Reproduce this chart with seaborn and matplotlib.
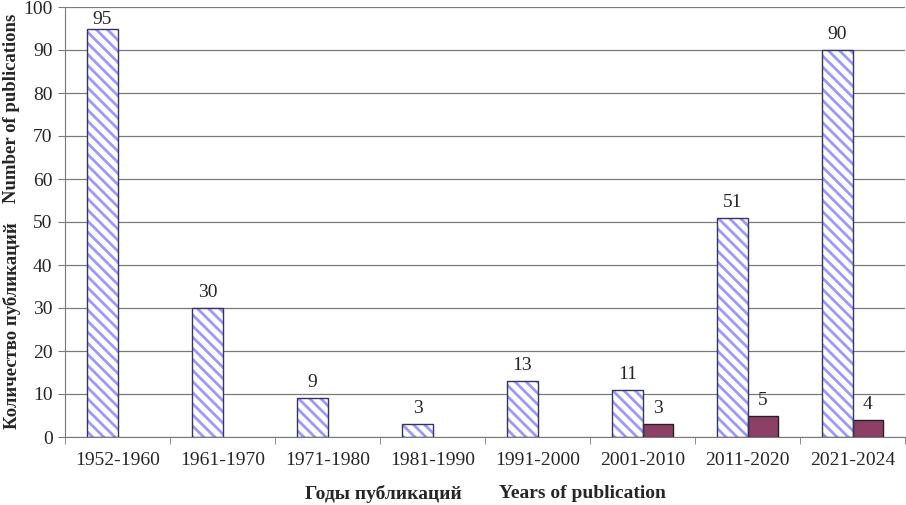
import matplotlib
matplotlib.use("Agg")
import matplotlib.pyplot as plt
import seaborn as sns
import pandas as pd

periods = ["1952-1960", "1961-1970", "1971-1980", "1981-1990",
           "1991-2000", "2001-2010", "2011-2020", "2021-2024"]
total_pubs = [95, 30, 9, 3, 13, 11, 51, 90]
# second series only exists from 2001 on
extra_periods = ["2001-2010", "2011-2020", "2021-2024"]
extra_pubs = [3, 5, 4]

df = pd.concat([
    pd.DataFrame({"period": periods, "count": total_pubs, "series": "all"}),
    pd.DataFrame({"period": extra_periods, "count": extra_pubs, "series": "extra"}),
], ignore_index=True)

sns.set_style("white")
plt.rcParams["font.family"] = ["Liberation Serif", "DejaVu Serif"]
plt.rcParams["hatch.color"] = "#9999ff"
plt.rcParams["hatch.linewidth"] = 2.0

fig = plt.figure(figsize=(9.06, 5.05), dpi=100)
ax = fig.add_axes([65 / 906, 1 - 437 / 505, 840 / 906, 430 / 505])

sns.barplot(data=df, x="period", y="count", hue="series", order=periods,
            hue_order=["all", "extra"], palette=["white", "#993366"],
            width=0.572, gap=0, dodge=True, legend=False, ax=ax)

for cont, name in zip(ax.containers, ["all", "extra"]):
    for bar in cont:
        if name == "all":
            bar.set_facecolor("white")
            bar.set_hatch("\\\\\\")
            bar.set_edgecolor("#9999ff")
            bar.set_linewidth(0)
            # dark outline drawn separately so the hatch stays light
            ax.add_patch(plt.Rectangle(bar.get_xy(), bar.get_width(), bar.get_height(),
                                       fill=False, edgecolor="#333366", lw=1.0, zorder=3))
        else:
            bar.set_edgecolor("#222222")
            bar.set_linewidth(1.0)
        h = bar.get_height()
        off = 5 if h < 92 else 0
        ax.annotate(f"{h:.0f}", (bar.get_x() + bar.get_width() / 2, h),
                    xytext=(0, off), textcoords="offset points",
                    ha="center", va="bottom", fontsize=14, annotation_clip=False)

ax.set_ylim(0, 100)
ax.set_xlim(-0.5, len(periods) - 0.5)
ax.set_yticks(range(0, 101, 10))
ax.yaxis.grid(True, color="#7a7a7a", lw=0.9)
ax.set_axisbelow(True)
ax.tick_params(axis="y", labelsize=14, length=5, color="#7a7a7a", left=True, pad=4)
ax.tick_params(axis="x", which="major", labelsize=14, length=0, pad=11)
ax.set_xticks([i - 0.5 for i in range(len(periods) + 1)], minor=True)
ax.tick_params(axis="x", which="minor", length=5, color="#7a7a7a", bottom=True)

for s in ["top", "right"]:
    ax.spines[s].set_visible(False)
for s in ["left", "bottom"]:
    ax.spines[s].set_color("#7a7a7a")
ax.set_xlabel("")
ax.set_ylabel("")

fig.text(12 / 906, 1 - 326 / 505, "Количество публикаций", rotation=90,
         ha="center", va="center", fontsize=13.5, fontweight="bold")
fig.text(12 / 906, 1 - 108 / 505, "Number of publications", rotation=90,
         ha="center", va="center", fontsize=13.5, fontweight="bold")
fig.text(383 / 906, 1 - 494 / 505, "Годы публикаций", ha="center", va="center",
         fontsize=14, fontweight="bold")
fig.text(582 / 906, 1 - 494 / 505, "Years of publication", ha="center", va="center",
         fontsize=14, fontweight="bold")

fig.savefig("out.png", dpi=100)
